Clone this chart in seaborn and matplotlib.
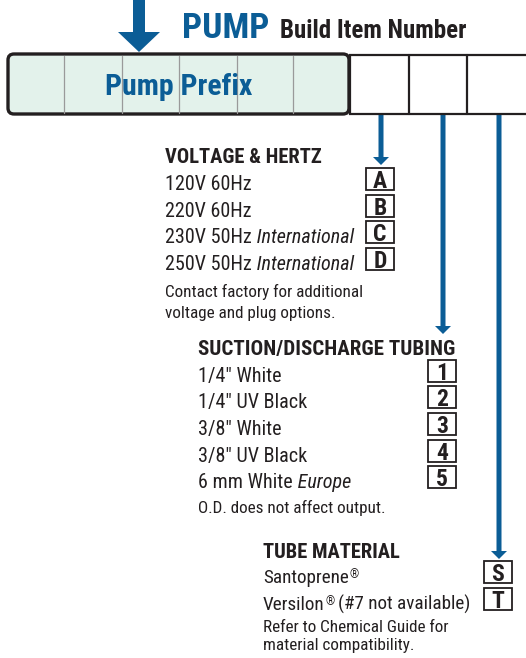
import matplotlib
matplotlib.use("Agg")
import matplotlib.pyplot as plt
from matplotlib import font_manager
from matplotlib.patches import FancyBboxPatch, Rectangle, FancyArrow
import seaborn as sns

# ---------------------------------------------------------------------------------
# data
voltage_labels = ["120V 60Hz", "220V 60Hz", "230V 50Hz", "250V 50Hz"]
voltage_notes = ["", "", "International", "International"]
voltage_codes = ["A", "B", "C", "D"]
voltage_footer = ["Contact factory for additional", "voltage and plug options."]

tubing_labels = ['1/4" White', '1/4" UV Black', '3/8" White', '3/8" UV Black', '6 mm White']
tubing_notes = ["", "", "", "", "Europe"]
tubing_codes = ["1", "2", "3", "4", "5"]
tubing_footer = ["O.D. does not affect output."]

material_labels = ["Santoprene", "Versilon"]
material_suffix = ["", "(#7 not available)"]
material_codes = ["S", "T"]
material_footer = ["Refer to Chemical Guide for", "material compatibility."]

BLUE = "#0b5d96"
INK = "#231f20"

# ---------------------------------------------------------------------------------
sns.set_theme(style="white")

def pick_font():
    for name in ["Liberation Sans Narrow", "Roboto Condensed", "Roboto", "Liberation Sans"]:
        try:
            font_manager.findfont(name, fallback_to_default=False)
            return name
        except Exception:
            pass
    return "DejaVu Sans"

FONT = pick_font()
plt.rcParams["font.family"] = [FONT, "DejaVu Sans"]

fig = plt.figure(figsize=(5.26, 6.58), dpi=100)
ax = fig.add_axes([0, 0, 1, 1])
ax.set_xlim(0, 526)
ax.set_ylim(658, 0)
ax.set_axis_off()

# header
ax.add_patch(FancyArrow(139, -5, 0, 57, width=12, head_width=42, head_length=20,
                        length_includes_head=True, color=BLUE, lw=0))
ax.text(182, 38, "PUMP", color=BLUE, fontsize=25.5, fontweight="bold", va="baseline")
ax.text(280, 38, "Build Item Number", color=INK, fontsize=18, fontweight="bold", va="baseline")

# prefix box
ax.add_patch(FancyBboxPatch((8, 54), 341, 60, boxstyle="round,pad=0,rounding_size=6",
                            fc="#e3f2eb", ec=INK, lw=2.4, zorder=3))
for xv in [64, 122, 179, 237, 293]:
    ax.plot([xv, xv], [55.5, 112.5], color="#9a9a9a", lw=0.9, zorder=4)
ax.text(179, 95, "Pump Prefix", color=BLUE, fontsize=21.5, fontweight="bold",
        ha="center", va="baseline", zorder=5)

# build number boxes
ax.add_patch(Rectangle((350, 55), 190, 59, fc="white", ec=INK, lw=1.6, zorder=2))
for xv in [409, 467]:
    ax.plot([xv, xv], [55, 114], color=INK, lw=1.6, zorder=2)

# connector arrows
for xv, yend in [(381, 165), (443, 334), (499, 559)]:
    ax.add_patch(FancyArrow(xv, 115, 0, yend - 115, width=5, head_width=16, head_length=8,
                            length_includes_head=True, color=BLUE, lw=0, zorder=1))


def code_box(x0, base, code):
    ax.add_patch(Rectangle((x0, base - 22), 28, 22, fc="white", ec=INK, lw=1.3))
    ax.text(x0 + 14, base - 2, code, color=INK, fontsize=17, fontweight="bold",
            ha="center", va="baseline")


def section(x, title_base, title, title_size, labels, notes, codes, box_x, bases,
            footer, footer_bases):
    ax.text(x, title_base, title, color=INK, fontsize=title_size, fontweight="bold",
            va="baseline")
    for i, lab in enumerate(labels):
        t = ax.text(x, bases[i], lab, color=INK, fontsize=14.5, va="baseline")
        if notes[i]:
            ax.annotate(" " + notes[i], xy=(1, 0), xycoords=t, va="bottom", ha="left",
                        color=INK, fontsize=14.5, fontstyle="italic")
        code_box(box_x, bases[i], codes[i])
    for line, b in zip(footer, footer_bases):
        ax.text(x, b, line, color=INK, fontsize=12.3, va="baseline")


section(165, 163, "VOLTAGE & HERTZ", 14.8, voltage_labels, voltage_notes, voltage_codes,
        366, [190, 217, 243, 270], voltage_footer, [297, 318])
section(198, 355, "SUCTION/DISCHARGE TUBING", 15.1, tubing_labels, tubing_notes, tubing_codes,
        428, [382, 408, 435, 462, 488], tubing_footer, [513])

# tube material, with registered marks
ax.text(263, 558, "TUBE MATERIAL", color=INK, fontsize=14.8, fontweight="bold", va="baseline")
for i, lab in enumerate(material_labels):
    b = [583, 610][i]
    t = ax.text(263, b, lab, color=INK, fontsize=13.8, va="baseline")
    ax.annotate("\u00ae", xy=(1, 1), xycoords=t, xytext=(0.3, 0.5), textcoords="offset points",
                va="top", ha="left", color=INK, fontsize=8.5)
    if material_suffix[i]:
        ax.annotate(material_suffix[i], xy=(1, 0), xycoords=t, xytext=(9.5, 0),
                    textcoords="offset points", va="bottom", ha="left",
                    color=INK, fontsize=13.8)
    code_box(484, b, material_codes[i])
for line, b in zip(material_footer, [632, 650]):
    ax.text(263, b, line, color=INK, fontsize=12.3, va="baseline")

fig.savefig("out.png", dpi=100)
